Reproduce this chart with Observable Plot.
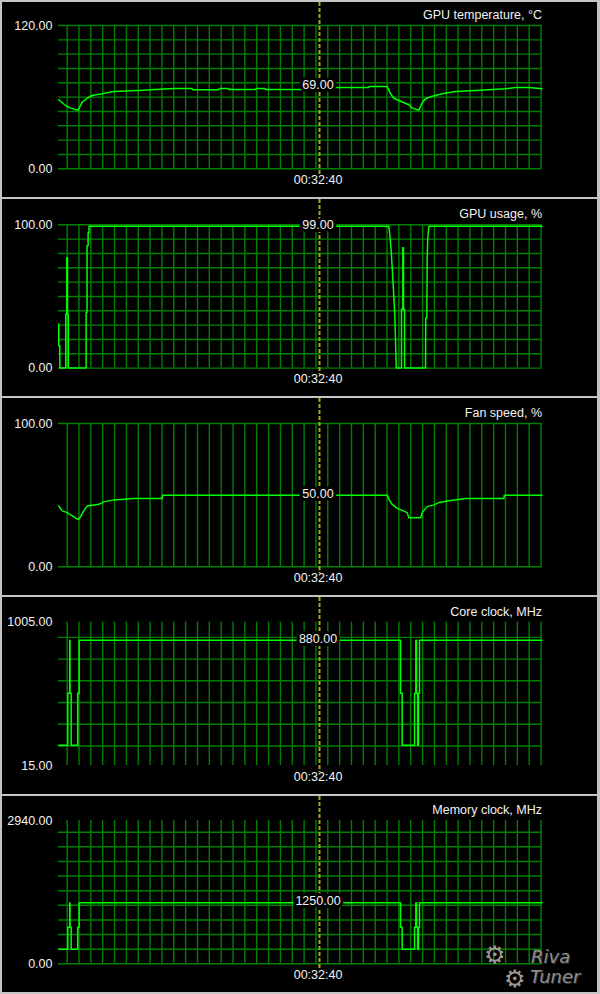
<!DOCTYPE html>
<html><head><meta charset="utf-8">
<script src="https://cdn.jsdelivr.net/npm/d3@7"></script>
<script src="https://cdn.jsdelivr.net/npm/@observablehq/plot@0.6"></script>
<style>
html,body{margin:0;padding:0;background:#c4c4c4;}
#wrap{position:relative;width:600px;height:994px;background:#c4c4c4;padding-top:2px;box-sizing:border-box;overflow:hidden;}
#wrap svg{display:block;margin:0 0 2px 2px;}
.logo{position:absolute;font-family:"DejaVu Sans",sans-serif;color:#9a9a9a;line-height:1;}
</style></head><body><div id="wrap"></div>
<script>
// time axis: one unit = one vertical grid division
const cursorTime = "00:32:40";
const cursorPos = 21.3;
const gridX = d3.range(0, 41);
const xDomain = [-0.73, 40.08];

const titles = ["GPU temperature, °C", "GPU usage, %", "Fan speed, %", "Core clock, MHz", "Memory clock, MHz"];
const ranges = [[0, 120], [0, 100], [0, 100], [15, 1005], [0, 2940]];
const cursorValues = [69, 99, 50, 880, 1250];
const tempGrid = [0, 12, 24, 36, 48, 60, 72, 84, 96, 108, 120];
const usageGrid = [0, 10, 20, 30, 40, 50, 60, 70, 80, 90, 100];
const fanGrid = [0, 100];
const coreGrid = [150, 300, 450, 600, 750, 900];
const memGrid = [0, 300, 600, 900, 1200, 1500, 1800, 2100, 2400, 2700];

const tempX = [-0.71, -0.14, 0.28, 0.93, 1.27, 1.69, 2.11, 2.95, 3.93, 6.04, 7.45, 9.0, 10.55, 10.6, 12.8, 12.85, 13.6, 13.65, 15.9, 15.95, 16.7, 16.75, 19.8, 21.3, 22.5, 25.45, 25.5, 27.0, 27.3, 27.57, 28.0, 28.84, 29.13, 29.68, 29.97, 30.25, 30.81, 31.66, 32.78, 34.47, 37.0, 37.85, 39.0, 40.08];
const tempY = [57.8, 53, 50.8, 49.1, 55.8, 59.1, 61.4, 62.8, 64.7, 65.6, 66.4, 67.2, 67.2, 66.2, 66.2, 67.2, 67.2, 66.4, 66.4, 67.2, 67.2, 66.4, 66.4, 69, 68, 68, 69, 69, 62.8, 59.1, 57.2, 53.6, 50.8, 49.1, 55.3, 58.6, 60.8, 62.8, 64.7, 65.6, 67, 68, 68, 67];

const usageX = [-0.71, -0.71, -0.62, -0.62, -0.12, -0.12, -0.03, -0.03, 0.03, 0.03, 0.1, 0.1, 1.6, 1.6, 1.68, 1.68, 1.77, 1.77, 1.85, 1.85, 27.15, 27.21, 27.35, 27.46, 27.57, 27.66, 27.74, 27.78, 28.22, 28.22, 28.33, 28.33, 28.39, 28.39, 28.48, 28.48, 30.25, 30.27, 30.36, 30.39, 30.44, 30.53, 40.08];
const usageY = [30.7, 15.6, 15.6, 0, 0, 37.7, 37.7, 77, 77, 37.7, 37.7, 0, 0, 38.8, 38.8, 85.3, 85.3, 94.6, 94.6, 99, 99, 94.6, 81.9, 66.7, 50.5, 35.3, 12, 0, 0, 41, 41, 84, 84, 41, 41, 0, 0, 35, 35, 77, 91, 99, 99];

const fanX = [-0.71, -0.42, 0, 0.76, 0.93, 1.12, 1.4, 1.69, 2.67, 3.09, 3.93, 5.62, 8.02, 8.06, 27.02, 27.15, 27.44, 27.86, 28.28, 28.7, 28.84, 29.83, 29.97, 30.39, 30.95, 31.37, 32.5, 33.63, 36.86, 36.9, 40.08];
const fanY = [42.5, 39, 37.8, 33.8, 33, 34.8, 39, 42.5, 43.6, 45.3, 46.7, 47.6, 47.6, 50, 50, 47, 43.5, 40.8, 39.4, 37.8, 34.3, 34.3, 37.8, 42, 43.2, 44.8, 46.4, 47.6, 47.6, 50, 50];

const clockX = [-0.71, 0.05, 0.05, 0.22, 0.22, 0.24, 0.24, 0.34, 0.34, 0.89, 0.89, 1.01, 1.01, 28.14, 28.14, 28.28, 28.28, 29.32, 29.32, 29.43, 29.43, 29.49, 29.49, 29.58, 29.58, 29.66, 29.66, 29.74, 29.74, 40.08];
const coreY = [155, 155, 514, 514, 880, 880, 514, 514, 155, 155, 514, 514, 880, 880, 514, 514, 155, 155, 514, 514, 880, 880, 514, 514, 155, 155, 514, 514, 880, 880];
const memY = [300, 300, 750, 750, 1250, 1250, 750, 750, 300, 300, 750, 750, 1250, 1250, 750, 750, 300, 300, 750, 750, 1250, 1250, 750, 750, 300, 300, 750, 750, 1250, 1250];

const seriesX = [tempX, usageX, fanX, clockX, clockX];
const seriesY = [tempY, usageY, fanY, coreY, memY];
const grids = [tempGrid, usageGrid, fanGrid, coreGrid, memGrid];

// layout (px)
const panelHeights = [195, 197, 197, 197, 196];
const panelTops = [23, 25.3, 25, 24.7, 24];
const plotH = 143.3;

const gridColor = "#008000";
const lineColor = "#00ff00";
const textColor = "#f2f2f2";
const font = "Liberation Sans, Arial, sans-serif";

const wrap = document.getElementById("wrap");
titles.forEach((title, i) => {
  const data = seriesX[i].map((u, k) => ({u, v: seriesY[i][k]}));
  const mt = panelTops[i];
  const mb = panelHeights[i] - mt - plotH;
  const chart = Plot.plot({
    width: 595,
    height: panelHeights[i],
    marginLeft: 56,
    marginRight: 55.5,
    marginTop: mt,
    marginBottom: mb,
    style: {background: "#000", color: textColor, fontFamily: font, fontSize: "12.5px", overflow: "visible"},
    x: {domain: xDomain, axis: null},
    y: {domain: ranges[i], axis: null},
    marks: [
      Plot.ruleY(grids[i], {stroke: gridColor, strokeWidth: 1.4}),
      Plot.ruleX(gridX, {stroke: gridColor, strokeWidth: 1.4}),
      Plot.line(data, {x: "u", y: "v", stroke: lineColor, strokeWidth: 1.5}),
      Plot.ruleX([cursorPos], {stroke: "#a8a818", strokeWidth: 2, strokeDasharray: "4,2", insetTop: -mt, insetBottom: -7}),
      Plot.text([cursorValues[i]], {x: () => cursorPos, y: d => d, text: d => d.toFixed(2), dx: -1.5, dy: -1.5,
        fill: textColor, stroke: "#000", strokeWidth: 6, strokeLinejoin: "miter", paintOrder: "stroke", fontSize: 12.5}),
      Plot.axisY(ranges[i], {tickSize: 0, tickPadding: 6, tickFormat: d => d.toFixed(2), label: null, fill: textColor, fontSize: 12.5}),
      Plot.text([title], {frameAnchor: "top-right", dy: -15.5, textAnchor: "end", fill: textColor, fontSize: 12.5}),
      Plot.text([cursorTime], {x: () => cursorPos, frameAnchor: "bottom", dy: 15, dx: -1.5, fill: textColor, fontSize: 12.5})
    ]
  });
  wrap.appendChild(chart);
});

// RivaTuner logo
const logo = document.createElement("div");
logo.innerHTML =
  '<span class="logo" style="left:484px;top:943px;font-size:24px;">⚙</span>' +
  '<span class="logo" style="left:504px;top:967px;font-size:24px;">⚙</span>' +
  '<span class="logo" style="left:531px;top:948px;font-size:18px;font-style:italic;color:#8e8e8e;text-shadow:1px 1px 0 #333;">Riva</span>' +
  '<span class="logo" style="left:530px;top:968px;font-size:18px;font-style:italic;color:#8e8e8e;text-shadow:1px 1px 0 #333;">Tuner</span>';
wrap.appendChild(logo);
</script>
</body></html>
